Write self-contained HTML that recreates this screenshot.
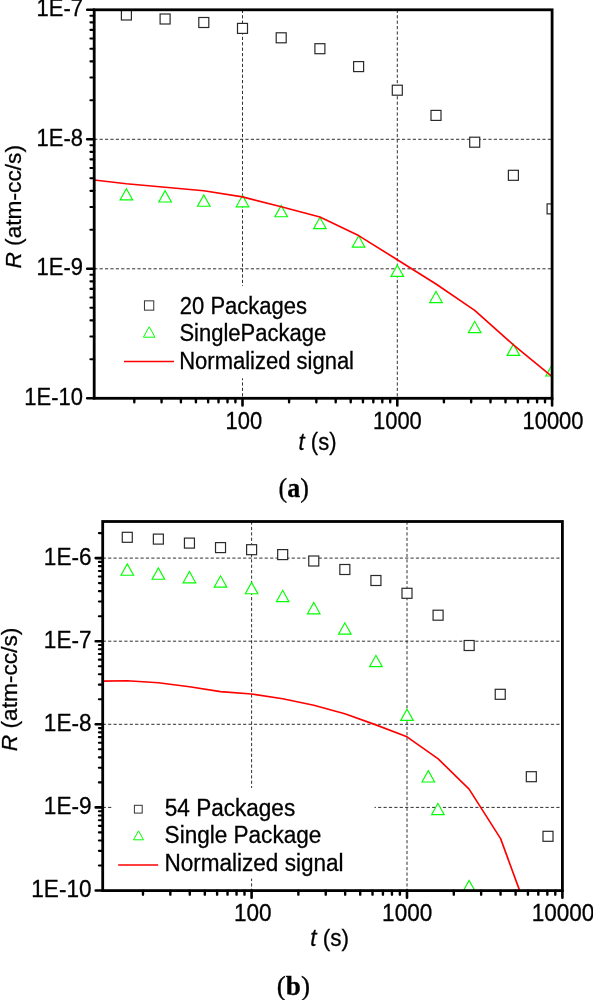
<!DOCTYPE html>
<html><head><meta charset="utf-8"><title>Figure</title>
<style>html,body{margin:0;padding:0;background:#fff}svg{display:block}text{fill:#000;stroke:#000;stroke-width:.3px;filter:grayscale(1)}</style></head>
<body>
<svg width="593" height="1000" viewBox="0 0 593 1000">
<rect width="593" height="1000" fill="#fff"/>
<clipPath id="clipa"><rect x="94.2" y="9.8" width="457.90000000000003" height="388.5"/></clipPath>
<path d="M242.50 9.8 V398.3 M397.30 9.8 V398.3 M94.2 139.30 H552.1 M94.2 268.80 H552.1" fill="none" stroke="#1a1a1a" stroke-width="0.9" stroke-dasharray="3.2 2.2"/>
<rect x="120" y="286" width="245" height="92.30000000000001" fill="#fff"/>
<g clip-path="url(#clipa)">
<rect x="121.40" y="10.00" width="10.0" height="10.0" fill="#fff" stroke="#2a2a2a" stroke-width="1.2"/>
<rect x="160.10" y="14.00" width="10.0" height="10.0" fill="#fff" stroke="#2a2a2a" stroke-width="1.2"/>
<rect x="198.80" y="17.50" width="10.0" height="10.0" fill="#fff" stroke="#2a2a2a" stroke-width="1.2"/>
<rect x="237.50" y="23.40" width="10.0" height="10.0" fill="#fff" stroke="#2a2a2a" stroke-width="1.2"/>
<rect x="276.20" y="32.80" width="10.0" height="10.0" fill="#fff" stroke="#2a2a2a" stroke-width="1.2"/>
<rect x="314.90" y="43.70" width="10.0" height="10.0" fill="#fff" stroke="#2a2a2a" stroke-width="1.2"/>
<rect x="353.60" y="61.60" width="10.0" height="10.0" fill="#fff" stroke="#2a2a2a" stroke-width="1.2"/>
<rect x="392.30" y="85.20" width="10.0" height="10.0" fill="#fff" stroke="#2a2a2a" stroke-width="1.2"/>
<rect x="431.00" y="110.40" width="10.0" height="10.0" fill="#fff" stroke="#2a2a2a" stroke-width="1.2"/>
<rect x="469.70" y="137.20" width="10.0" height="10.0" fill="#fff" stroke="#2a2a2a" stroke-width="1.2"/>
<rect x="508.40" y="170.30" width="10.0" height="10.0" fill="#fff" stroke="#2a2a2a" stroke-width="1.2"/>
<rect x="547.10" y="203.90" width="10.0" height="10.0" fill="#fff" stroke="#2a2a2a" stroke-width="1.2"/>
<path d="M120.10 199.90 L132.70 199.90 L126.40 188.61 Z" fill="#fff" stroke="#00ff00" stroke-width="1.15" stroke-linejoin="miter"/>
<path d="M158.80 202.00 L171.40 202.00 L165.10 190.71 Z" fill="#fff" stroke="#00ff00" stroke-width="1.15" stroke-linejoin="miter"/>
<path d="M197.50 206.20 L210.10 206.20 L203.80 194.91 Z" fill="#fff" stroke="#00ff00" stroke-width="1.15" stroke-linejoin="miter"/>
<path d="M236.20 206.80 L248.80 206.80 L242.50 195.51 Z" fill="#fff" stroke="#00ff00" stroke-width="1.15" stroke-linejoin="miter"/>
<path d="M274.90 216.70 L287.50 216.70 L281.20 205.41 Z" fill="#fff" stroke="#00ff00" stroke-width="1.15" stroke-linejoin="miter"/>
<path d="M313.60 228.60 L326.20 228.60 L319.90 217.31 Z" fill="#fff" stroke="#00ff00" stroke-width="1.15" stroke-linejoin="miter"/>
<path d="M352.30 247.10 L364.90 247.10 L358.60 235.81 Z" fill="#fff" stroke="#00ff00" stroke-width="1.15" stroke-linejoin="miter"/>
<path d="M391.00 276.40 L403.60 276.40 L397.30 265.11 Z" fill="#fff" stroke="#00ff00" stroke-width="1.15" stroke-linejoin="miter"/>
<path d="M429.70 302.60 L442.30 302.60 L436.00 291.31 Z" fill="#fff" stroke="#00ff00" stroke-width="1.15" stroke-linejoin="miter"/>
<path d="M468.40 332.60 L481.00 332.60 L474.70 321.31 Z" fill="#fff" stroke="#00ff00" stroke-width="1.15" stroke-linejoin="miter"/>
<path d="M507.10 355.40 L519.70 355.40 L513.40 344.11 Z" fill="#fff" stroke="#00ff00" stroke-width="1.15" stroke-linejoin="miter"/>
<path d="M545.80 376.00 L558.40 376.00 L552.10 364.71 Z" fill="#fff" stroke="#00ff00" stroke-width="1.15" stroke-linejoin="miter"/>
<circle cx="94.6" cy="190.4" r="0.9" fill="#00dd00"/>
<polyline points="94.2,180.0 126.4,183.8 165.1,187.2 203.8,190.8 242.5,196.9 281.2,206.7 319.9,217.0 358.6,235.6 397.3,259.7 436.0,284.0 474.7,310.4 513.4,344.8 552.1,376.6" fill="none" stroke="#ff0000" stroke-width="1.65" stroke-linejoin="round"/>
</g>
<path d="M242.50 398.3 V405.5 M397.30 398.3 V405.5 M552.10 398.3 V405.5 M94.2 398.30 H87.2 M94.2 268.80 H87.2 M94.2 139.30 H87.2 M94.2 9.80 H87.2" fill="none" stroke="#000" stroke-width="2.6" stroke-linecap="round"/>
<path d="M134.30 398.3 V402.35 M161.56 398.3 V402.35 M180.90 398.3 V402.35 M195.90 398.3 V402.35 M208.16 398.3 V402.35 M218.52 398.3 V402.35 M227.50 398.3 V402.35 M235.42 398.3 V402.35 M289.10 398.3 V402.35 M316.36 398.3 V402.35 M335.70 398.3 V402.35 M350.70 398.3 V402.35 M362.96 398.3 V402.35 M373.32 398.3 V402.35 M382.30 398.3 V402.35 M390.22 398.3 V402.35 M443.90 398.3 V402.35 M471.16 398.3 V402.35 M490.50 398.3 V402.35 M505.50 398.3 V402.35 M517.76 398.3 V402.35 M528.12 398.3 V402.35 M537.10 398.3 V402.35 M545.02 398.3 V402.35" fill="none" stroke="#000" stroke-width="2.4" stroke-linecap="round"/>
<path d="M94.2 359.32 H90.4 M94.2 336.51 H90.4 M94.2 320.33 H90.4 M94.2 307.78 H90.4 M94.2 297.53 H90.4 M94.2 288.86 H90.4 M94.2 281.35 H90.4 M94.2 274.73 H90.4 M94.2 229.82 H90.4 M94.2 207.01 H90.4 M94.2 190.83 H90.4 M94.2 178.28 H90.4 M94.2 168.03 H90.4 M94.2 159.36 H90.4 M94.2 151.85 H90.4 M94.2 145.23 H90.4 M94.2 100.32 H90.4 M94.2 77.51 H90.4 M94.2 61.33 H90.4 M94.2 48.78 H90.4 M94.2 38.53 H90.4 M94.2 29.86 H90.4 M94.2 22.35 H90.4 M94.2 15.73 H90.4" fill="none" stroke="#000" stroke-width="2.1" stroke-linecap="round"/>
<rect x="94.2" y="9.8" width="457.90000000000003" height="388.5" fill="none" stroke="#000" stroke-width="2.8"/>
<text transform="translate(83.00 16.30) scale(0.9322 1)" text-anchor="end" font-family="Liberation Sans, sans-serif" font-size="23.6">1E-7</text>
<text transform="translate(83.00 145.80) scale(0.9322 1)" text-anchor="end" font-family="Liberation Sans, sans-serif" font-size="23.6">1E-8</text>
<text transform="translate(83.00 275.30) scale(0.9322 1)" text-anchor="end" font-family="Liberation Sans, sans-serif" font-size="23.6">1E-9</text>
<text transform="translate(83.00 404.80) scale(0.9322 1)" text-anchor="end" font-family="Liberation Sans, sans-serif" font-size="23.6">1E-10</text>
<text transform="translate(243.80 428.50) scale(0.9322 1)" text-anchor="middle" font-family="Liberation Sans, sans-serif" font-size="23.6">100</text>
<text transform="translate(397.40 428.50) scale(0.9322 1)" text-anchor="middle" font-family="Liberation Sans, sans-serif" font-size="23.6">1000</text>
<text transform="translate(553.00 428.50) scale(0.9322 1)" text-anchor="middle" font-family="Liberation Sans, sans-serif" font-size="23.6">10000</text>
<rect x="144.45" y="300.85" width="9.3" height="9.3" fill="#fff" stroke="#333" stroke-width="1.0"/>
<path d="M143.40 337.20 L155.00 337.20 L149.20 326.80 Z" fill="#fff" stroke="#00ff00" stroke-width="1.0" stroke-linejoin="miter"/>
<path d="M124 361.5 H174" stroke="#ff0000" stroke-width="1.5"/>
<text transform="translate(179.80 313.60) scale(0.9565 1)" text-anchor="start" font-family="Liberation Sans, sans-serif" font-size="23.0">20 Packages</text>
<text transform="translate(179.40 340.80) scale(0.9565 1)" text-anchor="start" font-family="Liberation Sans, sans-serif" font-size="23.0">SinglePackage</text>
<text transform="translate(179.20 368.80) scale(0.9565 1)" text-anchor="start" font-family="Liberation Sans, sans-serif" font-size="23.0">Normalized signal</text>
<text transform="translate(21.00 268.60) rotate(-90) scale(0.9619 0.9576)" text-anchor="start" font-family="Liberation Sans, sans-serif" font-size="23.6"><tspan font-style="italic">R</tspan> (atm-cc/s)</text>
<text transform="translate(298.60 450.00) scale(0.9322 1)" text-anchor="start" font-family="Liberation Sans, sans-serif" font-size="23.6"><tspan font-style="italic">t</tspan> (s)</text>
<text transform="translate(278.6 496.9) scale(0.925 1)" font-family="Liberation Serif, serif" font-size="28.1">(<tspan font-weight="bold">a</tspan>)</text>
<clipPath id="clipb"><rect x="102.7" y="521.5" width="459.7" height="369.1"/></clipPath>
<path d="M251.60 521.5 V890.6 M407.00 521.5 V890.6 M102.7 558.10 H562.4 M102.7 641.20 H562.4 M102.7 724.30 H562.4 M102.7 807.40 H562.4" fill="none" stroke="#1a1a1a" stroke-width="0.9" stroke-dasharray="3.2 2.2"/>
<rect x="113" y="788" width="261.5" height="90.60000000000002" fill="#fff"/>
<g clip-path="url(#clipb)">
<rect x="122.28" y="532.30" width="10.0" height="10.0" fill="#fff" stroke="#2a2a2a" stroke-width="1.2"/>
<rect x="153.36" y="534.10" width="10.0" height="10.0" fill="#fff" stroke="#2a2a2a" stroke-width="1.2"/>
<rect x="184.44" y="538.10" width="10.0" height="10.0" fill="#fff" stroke="#2a2a2a" stroke-width="1.2"/>
<rect x="215.52" y="542.60" width="10.0" height="10.0" fill="#fff" stroke="#2a2a2a" stroke-width="1.2"/>
<rect x="246.60" y="544.70" width="10.0" height="10.0" fill="#fff" stroke="#2a2a2a" stroke-width="1.2"/>
<rect x="277.68" y="549.60" width="10.0" height="10.0" fill="#fff" stroke="#2a2a2a" stroke-width="1.2"/>
<rect x="308.76" y="556.00" width="10.0" height="10.0" fill="#fff" stroke="#2a2a2a" stroke-width="1.2"/>
<rect x="339.84" y="564.50" width="10.0" height="10.0" fill="#fff" stroke="#2a2a2a" stroke-width="1.2"/>
<rect x="370.92" y="575.50" width="10.0" height="10.0" fill="#fff" stroke="#2a2a2a" stroke-width="1.2"/>
<rect x="402.00" y="588.30" width="10.0" height="10.0" fill="#fff" stroke="#2a2a2a" stroke-width="1.2"/>
<rect x="433.08" y="610.20" width="10.0" height="10.0" fill="#fff" stroke="#2a2a2a" stroke-width="1.2"/>
<rect x="464.16" y="640.50" width="10.0" height="10.0" fill="#fff" stroke="#2a2a2a" stroke-width="1.2"/>
<rect x="495.24" y="689.30" width="10.0" height="10.0" fill="#fff" stroke="#2a2a2a" stroke-width="1.2"/>
<rect x="526.32" y="771.70" width="10.0" height="10.0" fill="#fff" stroke="#2a2a2a" stroke-width="1.2"/>
<rect x="543.00" y="831.30" width="10.0" height="10.0" fill="#fff" stroke="#2a2a2a" stroke-width="1.2"/>
<path d="M120.98 575.25 L133.58 575.25 L127.28 563.96 Z" fill="#fff" stroke="#00ff00" stroke-width="1.15" stroke-linejoin="miter"/>
<path d="M152.06 579.20 L164.66 579.20 L158.36 567.91 Z" fill="#fff" stroke="#00ff00" stroke-width="1.15" stroke-linejoin="miter"/>
<path d="M183.14 582.80 L195.74 582.80 L189.44 571.51 Z" fill="#fff" stroke="#00ff00" stroke-width="1.15" stroke-linejoin="miter"/>
<path d="M214.22 587.10 L226.82 587.10 L220.52 575.81 Z" fill="#fff" stroke="#00ff00" stroke-width="1.15" stroke-linejoin="miter"/>
<path d="M245.30 593.75 L257.90 593.75 L251.60 582.46 Z" fill="#fff" stroke="#00ff00" stroke-width="1.15" stroke-linejoin="miter"/>
<path d="M276.38 601.60 L288.98 601.60 L282.68 590.31 Z" fill="#fff" stroke="#00ff00" stroke-width="1.15" stroke-linejoin="miter"/>
<path d="M307.46 613.80 L320.06 613.80 L313.76 602.51 Z" fill="#fff" stroke="#00ff00" stroke-width="1.15" stroke-linejoin="miter"/>
<path d="M338.54 634.10 L351.14 634.10 L344.84 622.81 Z" fill="#fff" stroke="#00ff00" stroke-width="1.15" stroke-linejoin="miter"/>
<path d="M369.62 666.60 L382.22 666.60 L375.92 655.31 Z" fill="#fff" stroke="#00ff00" stroke-width="1.15" stroke-linejoin="miter"/>
<path d="M400.70 720.40 L413.30 720.40 L407.00 709.11 Z" fill="#fff" stroke="#00ff00" stroke-width="1.15" stroke-linejoin="miter"/>
<path d="M422.00 782.00 L434.60 782.00 L428.30 770.71 Z" fill="#fff" stroke="#00ff00" stroke-width="1.15" stroke-linejoin="miter"/>
<path d="M431.60 814.60 L444.20 814.60 L437.90 803.31 Z" fill="#fff" stroke="#00ff00" stroke-width="1.15" stroke-linejoin="miter"/>
<path d="M462.80 891.70 L475.40 891.70 L469.10 880.41 Z" fill="#fff" stroke="#00ff00" stroke-width="1.15" stroke-linejoin="miter"/>
<circle cx="103.2" cy="571.8" r="0.9" fill="#00dd00"/>
<polyline points="102.7,681.1 127.3,680.8 158.4,682.7 189.5,686.7 220.5,691.6 251.6,694.0 282.7,698.8 313.8,705.2 344.8,713.7 375.9,724.9 407.0,736.8 437.9,758.6 469.1,789.1 500.6,838.6 519.3,889.6 531.6,923.0" fill="none" stroke="#ff0000" stroke-width="1.65" stroke-linejoin="round"/>
</g>
<path d="M251.60 890.6 V897.8000000000001 M407.00 890.6 V897.8000000000001 M562.40 890.6 V897.8000000000001 M102.7 890.50 H95.7 M102.7 807.40 H95.7 M102.7 724.30 H95.7 M102.7 641.20 H95.7 M102.7 558.10 H95.7" fill="none" stroke="#000" stroke-width="2.6" stroke-linecap="round"/>
<path d="M142.98 890.6 V894.65 M170.34 890.6 V894.65 M189.76 890.6 V894.65 M204.82 890.6 V894.65 M217.12 890.6 V894.65 M227.53 890.6 V894.65 M236.54 890.6 V894.65 M244.49 890.6 V894.65 M298.38 890.6 V894.65 M325.74 890.6 V894.65 M345.16 890.6 V894.65 M360.22 890.6 V894.65 M372.52 890.6 V894.65 M382.93 890.6 V894.65 M391.94 890.6 V894.65 M399.89 890.6 V894.65 M453.78 890.6 V894.65 M481.14 890.6 V894.65 M500.56 890.6 V894.65 M515.62 890.6 V894.65 M527.92 890.6 V894.65 M538.33 890.6 V894.65 M547.34 890.6 V894.65 M555.29 890.6 V894.65" fill="none" stroke="#000" stroke-width="2.4" stroke-linecap="round"/>
<path d="M102.7 865.48 H98.9 M102.7 850.85 H98.9 M102.7 840.47 H98.9 M102.7 832.42 H98.9 M102.7 825.84 H98.9 M102.7 820.27 H98.9 M102.7 815.45 H98.9 M102.7 811.20 H98.9 M102.7 782.38 H98.9 M102.7 767.75 H98.9 M102.7 757.37 H98.9 M102.7 749.32 H98.9 M102.7 742.74 H98.9 M102.7 737.17 H98.9 M102.7 732.35 H98.9 M102.7 728.10 H98.9 M102.7 699.28 H98.9 M102.7 684.65 H98.9 M102.7 674.27 H98.9 M102.7 666.22 H98.9 M102.7 659.64 H98.9 M102.7 654.07 H98.9 M102.7 649.25 H98.9 M102.7 645.00 H98.9 M102.7 616.18 H98.9 M102.7 601.55 H98.9 M102.7 591.17 H98.9 M102.7 583.12 H98.9 M102.7 576.54 H98.9 M102.7 570.97 H98.9 M102.7 566.15 H98.9 M102.7 561.90 H98.9 M102.7 533.08 H98.9" fill="none" stroke="#000" stroke-width="2.1" stroke-linecap="round"/>
<rect x="102.7" y="521.5" width="459.7" height="369.1" fill="none" stroke="#000" stroke-width="2.8"/>
<text transform="translate(91.50 564.60) scale(0.9559 1)" text-anchor="end" font-family="Liberation Sans, sans-serif" font-size="23.6">1E-6</text>
<text transform="translate(91.50 647.70) scale(0.9559 1)" text-anchor="end" font-family="Liberation Sans, sans-serif" font-size="23.6">1E-7</text>
<text transform="translate(91.50 730.80) scale(0.9559 1)" text-anchor="end" font-family="Liberation Sans, sans-serif" font-size="23.6">1E-8</text>
<text transform="translate(91.50 813.90) scale(0.9559 1)" text-anchor="end" font-family="Liberation Sans, sans-serif" font-size="23.6">1E-9</text>
<text transform="translate(91.50 897.00) scale(0.9559 1)" text-anchor="end" font-family="Liberation Sans, sans-serif" font-size="23.6">1E-10</text>
<text transform="translate(252.80 921.30) scale(0.9559 1)" text-anchor="middle" font-family="Liberation Sans, sans-serif" font-size="23.6">100</text>
<text transform="translate(407.20 921.30) scale(0.9559 1)" text-anchor="middle" font-family="Liberation Sans, sans-serif" font-size="23.6">1000</text>
<text transform="translate(563.00 921.30) scale(0.9559 1)" text-anchor="middle" font-family="Liberation Sans, sans-serif" font-size="23.6">10000</text>
<rect x="134.40" y="805.30" width="7.8" height="7.8" fill="#fff" stroke="#333" stroke-width="1.0"/>
<path d="M133.50 839.80 L143.50 839.80 L138.50 830.84 Z" fill="#fff" stroke="#00ff00" stroke-width="1.0" stroke-linejoin="miter"/>
<path d="M118.2 864.9 H158.2" stroke="#ff0000" stroke-width="1.5"/>
<text transform="translate(164.80 815.60) scale(0.9809 1)" text-anchor="start" font-family="Liberation Sans, sans-serif" font-size="23.0">54 Packages</text>
<text transform="translate(164.60 842.80) scale(0.9809 1)" text-anchor="start" font-family="Liberation Sans, sans-serif" font-size="23.0">Single Package</text>
<text transform="translate(164.40 870.80) scale(0.9809 1)" text-anchor="start" font-family="Liberation Sans, sans-serif" font-size="23.0">Normalized signal</text>
<text transform="translate(16.60 751.20) rotate(-90) scale(0.9619 0.9576)" text-anchor="start" font-family="Liberation Sans, sans-serif" font-size="23.6"><tspan font-style="italic">R</tspan> (atm-cc/s)</text>
<text transform="translate(310.20 946.00) scale(0.9559 1)" text-anchor="start" font-family="Liberation Sans, sans-serif" font-size="23.6"><tspan font-style="italic">t</tspan> (s)</text>
<text transform="translate(276.8 995.2) scale(0.969 1)" font-family="Liberation Serif, serif" font-size="28.1">(<tspan font-weight="bold">b</tspan>)</text>
</svg>
</body></html>
